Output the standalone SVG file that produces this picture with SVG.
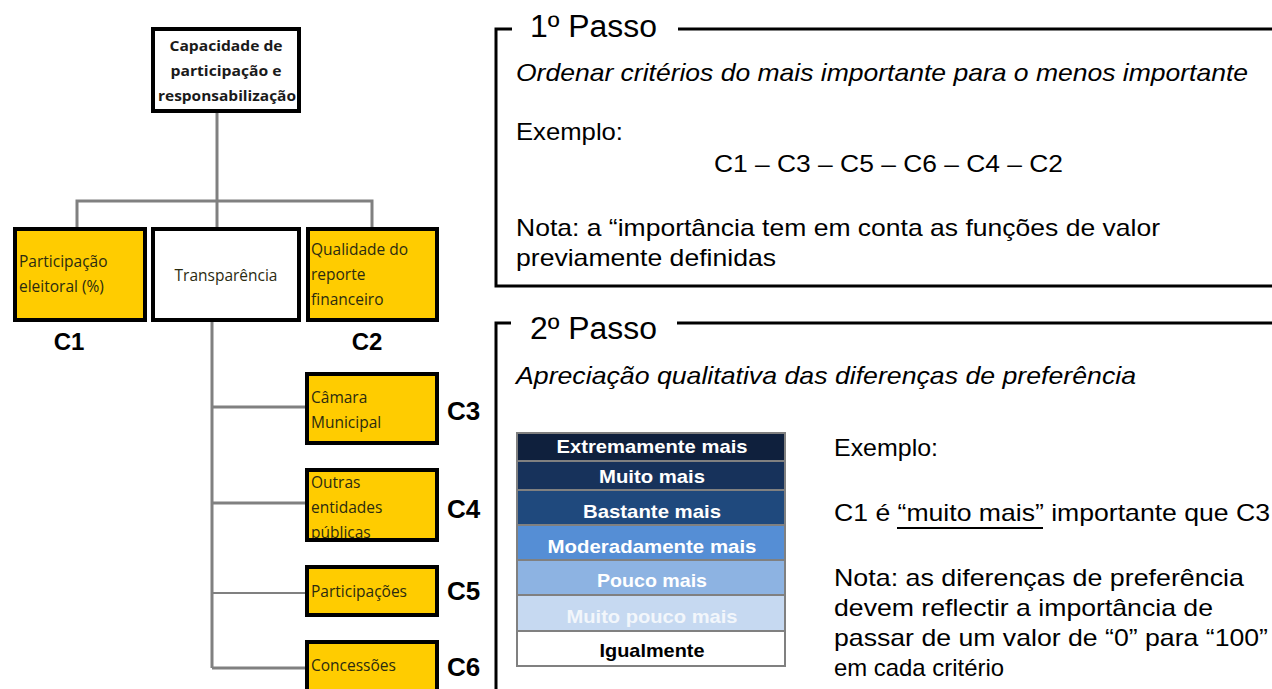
<svg xmlns="http://www.w3.org/2000/svg" width="1272" height="689" viewBox="0 0 1272 689">
<style>
.bx{stroke:#000;stroke-width:4;fill:none}
.yl{fill:#ffcc00}
.wh{fill:#ffffff}
.nt{font-family:"Open Sans","Liberation Sans",sans-serif;font-size:15.5px;fill:#2b2b10}
.ntb{font-family:"Open Sans","Liberation Sans",sans-serif;font-size:14.5px;font-weight:bold;fill:#1a1a1a}
.lbl{font-family:"Liberation Sans",Arial,sans-serif;font-weight:bold;fill:#000}
.con{stroke:#808080;stroke-width:3;fill:none}
.frm{stroke:#000;stroke-width:3;fill:none}
.tx{font-family:"Liberation Sans",Arial,sans-serif;font-size:24px;fill:#000}
.it{font-style:italic}
.ttl{font-family:"Liberation Sans",Arial,sans-serif;font-size:31px;fill:#000}
.row{stroke:#808080;stroke-width:2}
.rt{font-family:"Liberation Sans",Arial,sans-serif;font-size:19px;font-weight:bold;fill:#fff;text-anchor:middle}
</style>

<g id="connectors">
  <path class="con" d="M217 113 V227"/>
  <path class="con" d="M77 227 V201 H372 V227"/>
  <path class="con" d="M212 322 V668"/>
  <path class="con" d="M212 407 H307"/>
  <path class="con" d="M212 503 H307"/>
  <path class="con" d="M212 593 H307" style="stroke-width:2"/>
  <path class="con" d="M212 668 H307"/>
</g>

<g id="root">
  <rect class="wh" x="153" y="29" width="146" height="82"/>
  <text class="ntb" text-anchor="middle" x="226" y="51" textLength="113" lengthAdjust="spacingAndGlyphs">Capacidade de</text>
  <text class="ntb" text-anchor="middle" x="226" y="76" textLength="111" lengthAdjust="spacingAndGlyphs">participação e</text>
  <text class="ntb" text-anchor="middle" x="227" y="101" textLength="138" lengthAdjust="spacingAndGlyphs">responsabilização</text>
  <rect class="bx" x="153" y="29" width="146" height="82"/>
</g>

<g id="c1">
  <rect class="yl" x="15" y="229" width="130" height="91"/>
  <text class="nt" x="19" y="267">Participação</text>
  <text class="nt" x="19" y="292">eleitoral (%)</text>
  <rect class="bx" x="15" y="229" width="130" height="91"/>
  <text class="lbl" font-size="24" x="69" y="350" text-anchor="middle">C1</text>
</g>

<g id="transparencia">
  <rect class="wh" x="153" y="229" width="146" height="91"/>
  <text class="nt" x="226" y="281" text-anchor="middle">Transparência</text>
  <rect class="bx" x="153" y="229" width="146" height="91"/>
</g>

<g id="c2">
  <rect class="yl" x="308" y="229" width="129" height="91"/>
  <text class="nt" x="311" y="255">Qualidade do</text>
  <text class="nt" x="311" y="280">reporte</text>
  <text class="nt" x="311" y="305">financeiro</text>
  <rect class="bx" x="308" y="229" width="129" height="91"/>
  <text class="lbl" font-size="24" x="367" y="350" text-anchor="middle">C2</text>
</g>

<g id="c3">
  <rect class="yl" x="307" y="374" width="130" height="69"/>
  <text class="nt" x="311" y="403">Câmara</text>
  <text class="nt" x="311" y="428">Municipal</text>
  <rect class="bx" x="307" y="374" width="130" height="69"/>
  <text class="lbl" font-size="26" x="447" y="420">C3</text>
</g>

<g id="c4">
  <rect class="yl" x="307" y="470" width="130" height="70"/>
  <text class="nt" x="311" y="488">Outras</text>
  <text class="nt" x="311" y="513">entidades</text>
  <text class="nt" x="311" y="538">públicas</text>
  <rect class="bx" x="307" y="470" width="130" height="70"/>
  <text class="lbl" font-size="26" x="447" y="518">C4</text>
</g>

<g id="c5">
  <rect class="yl" x="307" y="567" width="130" height="48"/>
  <text class="nt" x="311" y="597">Participações</text>
  <rect class="bx" x="307" y="567" width="130" height="48"/>
  <text class="lbl" font-size="26" x="447" y="600">C5</text>
</g>

<g id="c6">
  <rect class="yl" x="307" y="642" width="130" height="50"/>
  <text class="nt" x="311" y="671">Concessões</text>
  <rect class="bx" x="307" y="642" width="130" height="50"/>
  <text class="lbl" font-size="26" x="447" y="676">C6</text>
</g>

<g id="passo1">
  <path class="frm" d="M512 29 H496 V286 H1272"/>
  <path class="frm" d="M678 29 H1272"/>
  <text class="ttl" x="530" y="37" textLength="127" lengthAdjust="spacingAndGlyphs">1º Passo</text>
  <text class="tx it" x="516" y="81" textLength="732" lengthAdjust="spacingAndGlyphs">Ordenar critérios do mais importante para o menos importante</text>
  <text class="tx" x="516" y="140" textLength="107" lengthAdjust="spacingAndGlyphs">Exemplo:</text>
  <text class="tx" x="714" y="172" textLength="349" lengthAdjust="spacingAndGlyphs">C1 – C3 – C5 – C6 – C4 – C2</text>
  <text class="tx" x="516" y="236" textLength="644" lengthAdjust="spacingAndGlyphs">Nota: a “importância tem em conta as funções de valor</text>
  <text class="tx" x="516" y="266" textLength="260" lengthAdjust="spacingAndGlyphs">previamente definidas</text>
</g>

<g id="passo2">
  <path class="frm" d="M511 323 H496 V689"/>
  <path class="frm" d="M677 323 H1272"/>
  <text class="ttl" x="530" y="339" textLength="127" lengthAdjust="spacingAndGlyphs">2º Passo</text>
  <text class="tx it" x="516" y="384" textLength="620" lengthAdjust="spacingAndGlyphs">Apreciação qualitativa das diferenças de preferência</text>
</g>

<g id="scale">
  <rect class="row" x="517" y="433" width="268" height="28" fill="#0f203d"/>
  <rect class="row" x="517" y="461" width="268" height="29" fill="#17325b"/>
  <rect class="row" x="517" y="490" width="268" height="35" fill="#1f497d"/>
  <rect class="row" x="517" y="525" width="268" height="35" fill="#558ed5"/>
  <rect class="row" x="517" y="560" width="268" height="35" fill="#8db3e2"/>
  <rect class="row" x="517" y="595" width="268" height="36" fill="#c6d9f1"/>
  <rect class="row" x="517" y="631" width="268" height="35" fill="#ffffff"/>
  <text class="rt" x="652" y="453" textLength="191" lengthAdjust="spacingAndGlyphs">Extremamente mais</text>
  <text class="rt" x="652" y="483" textLength="106" lengthAdjust="spacingAndGlyphs">Muito mais</text>
  <text class="rt" x="652" y="518" textLength="138" lengthAdjust="spacingAndGlyphs">Bastante mais</text>
  <text class="rt" x="652" y="553" textLength="209" lengthAdjust="spacingAndGlyphs">Moderadamente mais</text>
  <text class="rt" x="652" y="587" textLength="110" lengthAdjust="spacingAndGlyphs">Pouco mais</text>
  <text class="rt" x="652" y="623" textLength="171" lengthAdjust="spacingAndGlyphs" style="fill:#f2f6fb">Muito pouco mais</text>
  <text class="rt" x="652" y="657" textLength="105" lengthAdjust="spacingAndGlyphs" style="fill:#000">Igualmente</text>
</g>

<g id="exemplo2">
  <text class="tx" x="834" y="456" textLength="104" lengthAdjust="spacingAndGlyphs">Exemplo:</text>
  <text class="tx" x="834" y="521" textLength="436" lengthAdjust="spacingAndGlyphs">C1 é “muito mais” importante que C3</text>
  <line x1="897" y1="528" x2="1043" y2="528" stroke="#000" stroke-width="2"/>
  <text class="tx" x="834" y="586" textLength="410" lengthAdjust="spacingAndGlyphs">Nota: as diferenças de preferência</text>
  <text class="tx" x="834" y="616" textLength="379" lengthAdjust="spacingAndGlyphs">devem reflectir a importância de</text>
  <text class="tx" x="834" y="646" textLength="434" lengthAdjust="spacingAndGlyphs">passar de um valor de “0” para “100”</text>
  <text class="tx" x="834" y="676" textLength="170" lengthAdjust="spacingAndGlyphs">em cada critério</text>
</g>
</svg>
